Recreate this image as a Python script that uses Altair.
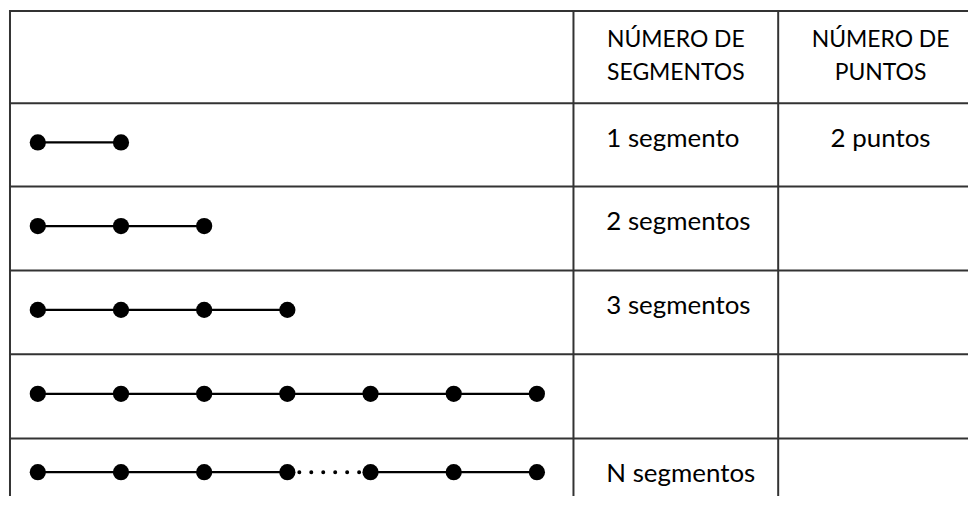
import altair as alt
import pandas as pd

# ---- content ----
dots_per_row = [2, 3, 4, 7, 7]
dotted_link = {"row": 4, "from": 3}          # row 5: link between 4th and 5th dot is dotted
segment_labels = ["1 segmento", "2 segmentos", "3 segmentos", "", "N segmentos"]
point_labels = ["2 puntos", "", "", "", ""]
header_line1 = ["NÚMERO DE", "NÚMERO DE"]
header_line2 = ["SEGMENTOS", "PUNTOS"]

# ---- layout (chart pixels) ----
W, H = 965, 490
COL_EDGES = [1, 568, 774, 980]
ROW_EDGES = [1, 94, 178, 262.7, 347, 432, 505]
X0, DX = 29, 83.7
FONT = "Lato"

row_centers = [(ROW_EDGES[i + 1] + ROW_EDGES[i + 2]) / 2 for i in range(5)]
dot_y = [c - 2.5 for c in row_centers]

dots, links = [], []
for r, n in enumerate(dots_per_row):
    for i in range(n):
        dots.append({"x": X0 + i * DX, "y": dot_y[r]})
    for i in range(n - 1):
        style = "dotted" if (r == dotted_link["row"] and i == dotted_link["from"]) else "solid"
        links.append({"x": X0 + i * DX, "x2": X0 + (i + 1) * DX, "y": dot_y[r], "style": style})
dots_df = pd.DataFrame(dots)
links_df = pd.DataFrame(links)

hlines_df = pd.DataFrame({"y": ROW_EDGES[:-1], "x": 0, "x2": W})
vlines_df = pd.DataFrame({"x": COL_EDGES[:-1], "y": 0, "y2": H})

text_rows = []
for r in range(5):
    base = ROW_EDGES[r + 1] + 44
    if segment_labels[r]:
        text_rows.append({"x": COL_EDGES[1] + 33, "y": base, "t": segment_labels[r], "a": "left"})
    if point_labels[r]:
        text_rows.append({"x": (COL_EDGES[2] + COL_EDGES[3]) / 2, "y": base, "t": point_labels[r], "a": "center"})
text_df = pd.DataFrame(text_rows)

head = []
for c in range(2):
    cx = (COL_EDGES[c + 1] + COL_EDGES[c + 2]) / 2
    head.append({"x": cx, "y": 37, "t": header_line1[c]})
    head.append({"x": cx, "y": 71, "t": header_line2[c]})
head_df = pd.DataFrame(head)

xs = alt.Scale(domain=[0, W], nice=False, zero=False)
ys = alt.Scale(domain=[0, H], reverse=True, nice=False, zero=False)
X = lambda f="x": alt.X(f"{f}:Q", scale=xs, axis=None)
Y = lambda f="y": alt.Y(f"{f}:Q", scale=ys, axis=None)

grid_h = alt.Chart(hlines_df).mark_rule(color="#333333", strokeWidth=2).encode(
    x=X(), x2="x2:Q", y=Y())
grid_v = alt.Chart(vlines_df).mark_rule(color="#333333", strokeWidth=2).encode(
    x=X(), y=Y(), y2="y2:Q")

solid = alt.Chart(links_df).transform_filter("datum.style == 'solid'").mark_rule(
    color="black", strokeWidth=2.2).encode(x=X(), x2="x2:Q", y=Y())
dotted = alt.Chart(links_df).transform_filter("datum.style == 'dotted'").mark_rule(
    color="black", strokeWidth=4, strokeDash=[0.01, 12], strokeCap="round").encode(
    x=X(), x2="x2:Q", y=Y())

points = alt.Chart(dots_df).mark_circle(color="black", opacity=1, size=265).encode(x=X(), y=Y())

txt_left = alt.Chart(text_df).transform_filter("datum.a == 'left'").mark_text(
    font=FONT, fontSize=26, align="left", baseline="alphabetic", color="black").encode(
    x=X(), y=Y(), text="t:N")
txt_center = alt.Chart(text_df).transform_filter("datum.a == 'center'").mark_text(
    font=FONT, fontSize=26, align="center", baseline="alphabetic", color="black").encode(
    x=X(), y=Y(), text="t:N")
hdr = alt.Chart(head_df).mark_text(
    font=FONT, fontSize=23, align="center", baseline="alphabetic", color="black").encode(
    x=X(), y=Y(), text="t:N")

chart = alt.layer(grid_h, grid_v, solid, dotted, points, txt_left, txt_center, hdr).properties(
    width=W, height=H,
    autosize=alt.AutoSizeParams(type="fit", contains="padding"),
    padding=0,
    background="white",
).configure_view(stroke=None)

chart.save("out.html", embed_options={"renderer": "svg", "actions": False})
